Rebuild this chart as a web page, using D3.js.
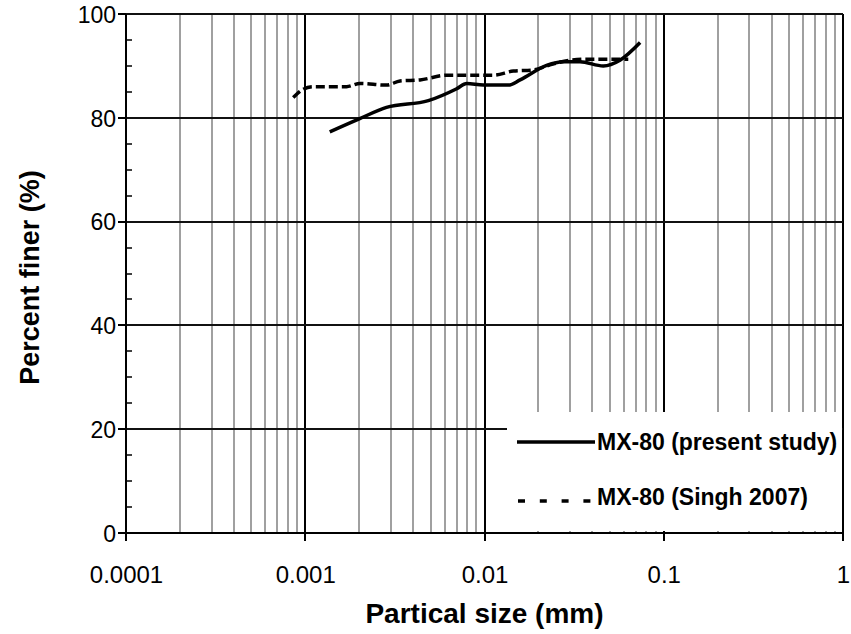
<!DOCTYPE html>
<html>
<head>
<meta charset="utf-8">
<script src="https://cdn.jsdelivr.net/npm/d3@7"></script>
<style>
  body { margin: 0; background: #fff; }
  svg { display: block; font-family: "Liberation Sans", Arial, sans-serif; }
</style>
</head>
<body>
<svg id="chart" width="851" height="634"></svg>
<script>
// ---- data ----
const presentSize = [0.00137, 0.0020, 0.00284, 0.00486, 0.0070, 0.00796, 0.00984, 0.0136, 0.0158, 0.0222, 0.0275, 0.0341, 0.046, 0.057, 0.0738];
const presentFiner = [77.3, 79.8, 82.0, 83.3, 85.6, 86.6, 86.3, 86.3, 87.3, 90.1, 90.8, 90.8, 90.0, 91.1, 94.5];
const singhSize = [0.000857, 0.000975, 0.00111, 0.0017, 0.00202, 0.00284, 0.00338, 0.00437, 0.00615, 0.00796, 0.0112, 0.0145, 0.0187, 0.0232, 0.030, 0.0372, 0.0634];
const singhFiner = [83.9, 85.5, 86.0, 86.0, 86.6, 86.3, 87.1, 87.3, 88.2, 88.2, 88.2, 89.0, 89.2, 90.2, 91.1, 91.3, 91.3];
const xTickValues = [0.0001, 0.001, 0.01, 0.1, 1];
const xTickLabels = ["0.0001", "0.001", "0.01", "0.1", "1"];
const yTickValues = [0, 20, 40, 60, 80, 100];
const seriesNames = ["MX-80 (present study)", "MX-80 (Singh 2007)"];

// ---- layout ----
const svg = d3.select("#chart");
const L = 126, R = 843, T = 14, B = 533;
const x = d3.scaleLog().domain([0.0001, 1]).range([L, R]);
const y = d3.scaleLinear().domain([0, 100]).range([B, T]);

// minor vertical grid
const minor = [];
for (let e = -4; e < 0; e++) for (let m = 2; m <= 9; m++) minor.push(m * Math.pow(10, e));
svg.append("g").selectAll("line").data(minor).join("line")
  .attr("x1", d => Math.round(x(d))).attr("x2", d => Math.round(x(d)))
  .attr("y1", T).attr("y2", B)
  .attr("stroke", "#a0a0a0").attr("stroke-width", 2);

// major grid
svg.append("g").selectAll("line").data(xTickValues.slice(1)).join("line")
  .attr("x1", d => Math.round(x(d))).attr("x2", d => Math.round(x(d)))
  .attr("y1", T).attr("y2", B)
  .attr("stroke", "#000").attr("stroke-width", 2);
svg.append("g").selectAll("line").data(yTickValues.slice(1)).join("line")
  .attr("x1", L).attr("x2", R)
  .attr("y1", d => Math.round(y(d))).attr("y2", d => Math.round(y(d)))
  .attr("stroke", "#111").attr("stroke-width", 2);

// series lines
const line = d3.line().x(d => x(d[0])).y(d => y(d[1])).curve(d3.curveMonotoneX);
svg.append("path").datum(d3.zip(singhSize, singhFiner))
  .attr("d", line).attr("fill", "none").attr("stroke", "#000")
  .attr("stroke-width", 3.5).attr("stroke-dasharray", "9,4");
svg.append("path").datum(d3.zip(presentSize, presentFiner))
  .attr("d", line).attr("fill", "none").attr("stroke", "#000")
  .attr("stroke-width", 3.5);

// legend box (white, no border)
svg.append("rect").attr("x", 507).attr("y", 412).attr("width", R - 507 - 1).attr("height", 119)
  .attr("fill", "#fff");

const leg = svg.append("g");
leg.append("line").attr("x1", 517).attr("x2", 595).attr("y1", 442).attr("y2", 442)
  .attr("stroke", "#000").attr("stroke-width", 3.5);
leg.append("line").attr("x1", 518).attr("x2", 591).attr("y1", 501).attr("y2", 501)
  .attr("stroke", "#000").attr("stroke-width", 3.5).attr("stroke-dasharray", "7,14.8");
leg.selectAll("text").data(seriesNames).join("text")
  .attr("x", 597).attr("y", (d, i) => 450 + i * 55)
  .attr("font-size", 23).attr("font-weight", "bold").text(d => d);

// axes
const xAxis = d3.axisBottom(x).tickValues(xTickValues)
  .tickFormat((d, i) => xTickLabels[i]).tickSize(0).tickPadding(0);
const gx = svg.append("g").attr("transform", `translate(0,${B})`).call(xAxis);
gx.select(".domain").remove();
gx.selectAll("text").attr("y", 50).attr("dy", 0).attr("font-size", 24).attr("fill", "#000")
  .attr("font-family", "Liberation Sans, Arial, sans-serif");
svg.append("line").attr("x1", L).attr("x2", R).attr("y1", B).attr("y2", B)
  .attr("stroke", "#000").attr("stroke-width", 2);
svg.append("g").selectAll("line").data(xTickValues).join("line")
  .attr("x1", d => Math.round(x(d))).attr("x2", d => Math.round(x(d))).attr("y1", B).attr("y2", B + 8)
  .attr("stroke", "#000").attr("stroke-width", 2);

const yAxis = d3.axisLeft(y).tickValues(yTickValues).tickSize(0).tickPadding(0);
const gy = svg.append("g").attr("transform", `translate(${L},0)`).call(yAxis);
gy.select(".domain").remove();
gy.selectAll("text").attr("x", -10).attr("dy", "0.36em").attr("font-size", 23).attr("fill", "#000")
  .attr("font-family", "Liberation Sans, Arial, sans-serif");
svg.append("line").attr("x1", L).attr("x2", L).attr("y1", T).attr("y2", B + 8)
  .attr("stroke", "#000").attr("stroke-width", 2);
svg.append("g").selectAll("line").data(yTickValues).join("line")
  .attr("x1", L - 8).attr("x2", L).attr("y1", d => Math.round(y(d))).attr("y2", d => Math.round(y(d)))
  .attr("stroke", "#000").attr("stroke-width", 2);
const yMinor = d3.range(5, 100, 5).filter(v => v % 20 !== 0);
svg.append("g").selectAll("line").data(yMinor).join("line")
  .attr("x1", L).attr("x2", L + 6).attr("y1", d => Math.round(y(d))).attr("y2", d => Math.round(y(d)))
  .attr("stroke", "#000").attr("stroke-width", 1.5);

// titles
svg.append("text").attr("x", (L + R) / 2).attr("y", 623).attr("text-anchor", "middle")
  .attr("font-size", 28).attr("font-weight", "bold").text("Partical size (mm)");
svg.append("text").attr("transform", `translate(39,${(T + B) / 2 + 4}) rotate(-90)`)
  .attr("text-anchor", "middle")
  .attr("font-size", 27).attr("font-weight", "bold").text("Percent finer (%)");
</script>
</body>
</html>
